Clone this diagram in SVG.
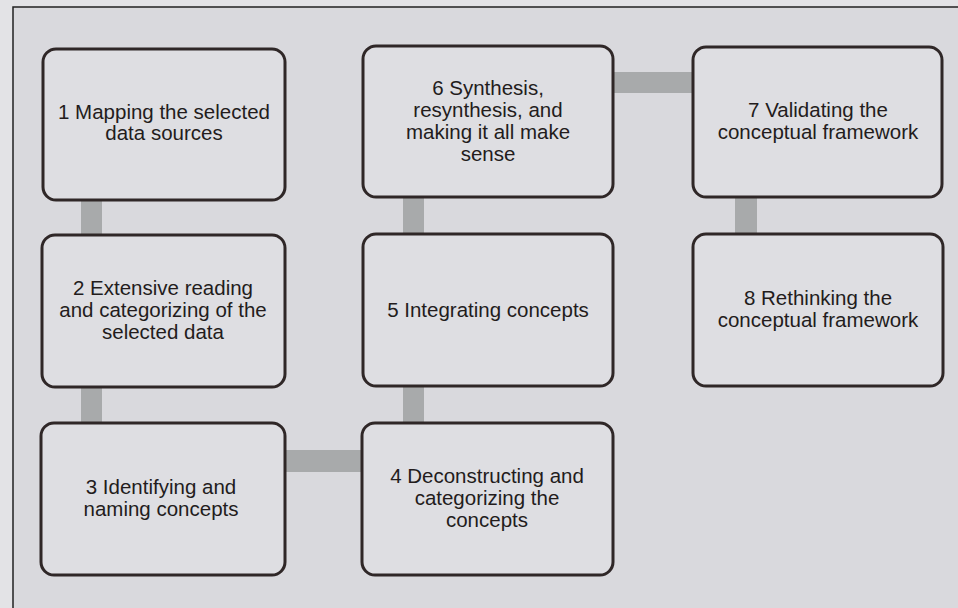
<svg xmlns="http://www.w3.org/2000/svg" width="958" height="608" viewBox="0 0 958 608">
<style>
.node rect{fill:#dedee2;stroke:#2f2727;stroke-width:3}
.node text{font-family:"Liberation Sans",Arial,sans-serif;font-size:20.5px;fill:#231c1c;text-anchor:middle}
.bar{fill:#a8aaab}
</style>
<rect x="0" y="0" width="958" height="608" fill="#e3e3e6"/>
<rect x="13" y="7" width="960" height="620" fill="#d9d9dd" stroke="#222" stroke-width="1.5"/>
<g id="connectors">
<rect class="bar" x="81" y="200" width="21" height="36"/>
<rect class="bar" x="81" y="386" width="21" height="38"/>
<rect class="bar" x="285" y="450" width="78" height="22"/>
<rect class="bar" x="403" y="385" width="21" height="39"/>
<rect class="bar" x="403" y="196" width="21" height="39"/>
<rect class="bar" x="613" y="72" width="80" height="21"/>
<rect class="bar" x="735" y="196" width="22" height="38"/>
</g>
<g id="n1" class="node"><rect x="43" y="49" width="242" height="151" rx="13"/>
<text x="164" y="119">1 Mapping the selected</text><text x="164" y="140">data sources</text></g>
<g id="n2" class="node"><rect x="42" y="235" width="243" height="152" rx="13"/>
<text x="163" y="295">2 Extensive reading</text><text x="163" y="317">and categorizing of the</text><text x="163" y="339">selected data</text></g>
<g id="n3" class="node"><rect x="41" y="423" width="244" height="152" rx="13"/>
<text x="161" y="494">3 Identifying and</text><text x="161" y="516">naming concepts</text></g>
<g id="n4" class="node"><rect x="362" y="423" width="251" height="152" rx="13"/>
<text x="487" y="483">4 Deconstructing and</text><text x="487" y="505">categorizing the</text><text x="487" y="527">concepts</text></g>
<g id="n5" class="node"><rect x="363" y="234" width="250" height="152" rx="13"/>
<text x="488" y="317">5 Integrating concepts</text></g>
<g id="n6" class="node"><rect x="363" y="46" width="250" height="151" rx="13"/>
<text x="488" y="95">6 Synthesis,</text><text x="488" y="117">resynthesis, and</text><text x="488" y="139">making it all make</text><text x="488" y="161">sense</text></g>
<g id="n7" class="node"><rect x="693" y="47" width="249" height="150" rx="13"/>
<text x="818" y="117">7 Validating the</text><text x="818" y="139">conceptual framework</text></g>
<g id="n8" class="node"><rect x="693" y="234" width="250" height="152" rx="13"/>
<text x="818" y="305">8 Rethinking the</text><text x="818" y="327">conceptual framework</text></g>
</svg>
